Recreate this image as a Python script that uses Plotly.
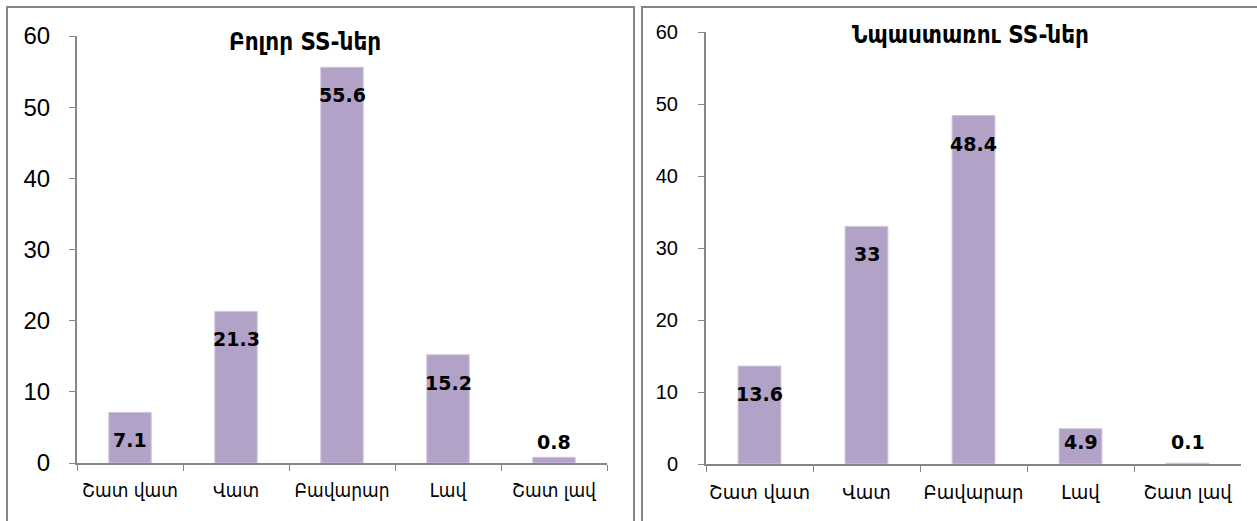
import plotly.graph_objects as go

categories = ["Շատ վատ", "Վատ", "Բավարար", "Լավ", "Շատ լավ"]
all_ss = [7.1, 21.3, 55.6, 15.2, 0.8]
beneficiary_ss = [13.6, 33, 48.4, 4.9, 0.1]
titles = ["Բոլոր SS-ներ", "Նպաստառու SS-ներ"]
y_ticks = [0, 10, 20, 30, 40, 50, 60]

W, H = 1257, 521
BAR = "#B3A2C7"
GRID = "#868686"
ARM = "DejaVu Sans Condensed, DejaVu Sans"
ARIAL = "Liberation Sans, Arial"
LBL = "DejaVu Sans, Liberation Sans"

fig = go.Figure()

panels = [
    dict(vals=all_ss, xa="x", ya="y"),
    dict(vals=beneficiary_ss, xa="x2", ya="y2"),
]

for p in panels:
    fig.add_trace(go.Bar(
        x=categories, y=p["vals"], xaxis=p["xa"], yaxis=p["ya"],
        marker=dict(color=BAR, line=dict(color="#CFC4DE", width=1)),
        width=0.4, showlegend=False, hoverinfo="x+y",
    ))
    for c, v in zip(categories, p["vals"]):
        fig.add_annotation(
            x=c, y=max(v - 3.9, 3.0), xref=p["xa"], yref=p["ya"],
            text="<b>%g</b>" % v, showarrow=False,
            xanchor="center", yanchor="middle",
            font=dict(family=LBL, size=19, color="black"),
        )

def px_x(v):
    return v / W

def px_y(v):
    return 1 - v / H

axis_common = dict(showline=True, linecolor=GRID, linewidth=2, showgrid=False,
                   zeroline=False, ticks="outside", tickcolor=GRID, tickwidth=1,
                   ticklen=6, fixedrange=True, automargin=False)

fig.update_layout(
    width=W, height=H,
    margin=dict(l=0, r=0, t=0, b=0),
    paper_bgcolor="white", plot_bgcolor="white",
    xaxis=dict(domain=[px_x(77), px_x(607)], anchor="y", type="category",
               range=[-0.5, 4.5], tickson="boundaries", ticklabelstandoff=9,
               tickangle=0,
               tickfont=dict(family=ARM, size=19, color="black"), **axis_common),
    yaxis=dict(domain=[px_y(463), px_y(36)], anchor="x", range=[0, 60],
               tickvals=y_ticks, ticklabelstandoff=14,
               tickfont=dict(family=ARIAL, size=24, color="black"),
               **axis_common),
    xaxis2=dict(domain=[px_x(706), px_x(1241)], anchor="y2", type="category",
                range=[-0.5, 4.5], tickson="boundaries", ticklabelstandoff=9,
                tickangle=0,
                tickfont=dict(family=ARM, size=20, color="black"), **axis_common),
    yaxis2=dict(domain=[px_y(464), px_y(32)], anchor="x2", range=[0, 60],
                tickvals=y_ticks, ticklabelstandoff=16,
                tickfont=dict(family=ARIAL, size=20, color="black"),
                **axis_common),
)

# panel titles
fig.add_annotation(x=px_x(305), y=px_y(42), xref="paper", yref="paper",
                   xanchor="center", yanchor="middle",
                   text="<b>%s</b>" % titles[0], showarrow=False,
                   font=dict(family=ARM, size=24, color="black"))
fig.add_annotation(x=px_x(970), y=px_y(35), xref="paper", yref="paper",
                   xanchor="center", yanchor="middle",
                   text="<b>%s</b>" % titles[1], showarrow=False,
                   font=dict(family=ARM, size=24, color="black"))

# chart-area borders
fig.add_shape(type="rect", xref="paper", yref="paper",
              x0=px_x(7), x1=px_x(634), y0=px_y(530), y1=px_y(7),
              line=dict(color=GRID, width=2), fillcolor="rgba(0,0,0,0)", layer="below")
fig.add_shape(type="rect", xref="paper", yref="paper",
              x0=px_x(642), x1=px_x(1270), y0=px_y(530), y1=px_y(7),
              line=dict(color=GRID, width=2), fillcolor="rgba(0,0,0,0)", layer="below")

fig.write_html("out.html", config={"displayModeBar": False},
               post_script="document.body.style.margin='0';")
